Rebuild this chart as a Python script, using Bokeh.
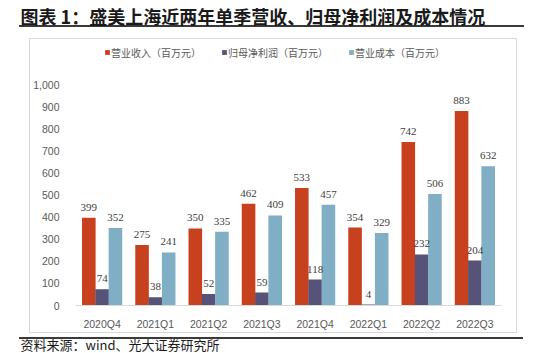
from bokeh.plotting import figure
from bokeh.models import (ColumnDataSource, FactorRange, Range1d, LabelSet, Title,
                          Legend, LegendItem, FixedTicker, NumeralTickFormatter)
from bokeh.transform import dodge
from bokeh.embed import file_html
from bokeh.resources import INLINE

quarters = ["2020Q4", "2021Q1", "2021Q2", "2021Q3", "2021Q4", "2022Q1", "2022Q2", "2022Q3"]
revenue = [399, 275, 350, 462, 533, 354, 742, 883]
net_profit = [74, 38, 52, 59, 118, 4, 232, 204]
cost = [352, 241, 335, 409, 457, 329, 506, 632]
series_names = ["营业收入（百万元）", "归母净利润（百万元）", "营业成本（百万元）"]
y_ticks = [0, 100, 200, 300, 400, 500, 600, 700, 800, 900, 1000]

title_text = "图表 1：盛美上海近两年单季营收、归母净利润及成本情况"
source_text = "资料来源：wind、光大证券研究所"

RED = "#C8411F"
PURPLE = "#575277"
BLUE = "#80AEC4"
CJK = "Noto Sans CJK SC"
LAT = "Liberation Sans"

W, H = 545, 353
FL, FR, FT, FB = 75, 501, 23, 306     # frame edges in canvas px
PX_PER_UNIT = 0.225                   # 1000 -> 225 px
y_end = (FB - FT) / PX_PER_UNIT

p = figure(width=W, height=H, x_range=FactorRange(*quarters, range_padding=0),
           y_range=Range1d(0, y_end), output_backend="svg", toolbar_location=None,
           min_border_left=FL, min_border_right=W - FR, min_border_top=FT,
           min_border_bottom=H - FB)
p.outline_line_color = None
p.background_fill_alpha = 0
p.border_fill_alpha = 0
p.xgrid.grid_line_color = None
p.ygrid.grid_line_color = None

# decorative rules and chart box (page furniture, drawn as CSS background)
def bar(color, x, y, w, h):
    return f"linear-gradient({color},{color}) {x}px {y}px / {w}px {h}px no-repeat"

box_c = "#D9D9D9"
rule_c = "#3a3a3a"
p.styles = {"background": ", ".join([
    bar(rule_c, 19, 25, 505, 2),
    bar(rule_c, 19, 337, 504, 2),
    bar(box_c, 29, 38, 488, 1),
    bar(box_c, 29, 332, 488, 1),
    bar(box_c, 29, 38, 1, 295),
    bar(box_c, 516, 38, 1, 295),
    "#ffffff",
])}

src = ColumnDataSource(dict(q=quarters, rev=revenue, np=net_profit, cost=cost,
                            rev_t=[str(v) for v in revenue],
                            np_t=[str(v) for v in net_profit],
                            cost_t=[str(v) for v in cost]))

bw = 0.255
off = 0.25
r1 = p.vbar(x=dodge("q", -off, range=p.x_range), top="rev", width=bw, source=src,
            fill_color=RED, line_color=None)
r2 = p.vbar(x=dodge("q", 0, range=p.x_range), top="np", width=bw, source=src,
            fill_color=PURPLE, line_color=None)
r3 = p.vbar(x=dodge("q", off, range=p.x_range), top="cost", width=bw, source=src,
            fill_color=BLUE, line_color=None)

for fld, o in (("rev", -off), ("np", 0), ("cost", off)):
    ls = LabelSet(x=dodge("q", o, range=p.x_range), y=fld, text=fld + "_t", source=src,
                  text_align="center", text_baseline="alphabetic", y_offset=7,
                  text_font=LAT, text_font_size="11px", text_color="#404040")
    p.add_layout(ls)

# axes
xa = p.xaxis[0]
xa.axis_line_color = "#D9D9D9"
xa.major_tick_line_color = None
xa.minor_tick_line_color = None
xa.major_label_standoff = 6
xa.major_label_text_font = LAT
xa.major_label_text_font_size = "10.5px"
xa.major_label_text_color = "#595959"

ya = p.yaxis[0]
ya.axis_line_color = None
ya.major_tick_line_color = None
ya.minor_tick_line_color = None
ya.ticker = FixedTicker(ticks=y_ticks)
ya.formatter = NumeralTickFormatter(format="0,0")
ya.major_label_standoff = 10
ya.major_label_text_font = LAT
ya.major_label_text_font_size = "10.5px"
ya.major_label_text_color = "#595959"

# legend (inside frame, near the top)
legend = Legend(items=[LegendItem(label=series_names[0], renderers=[r1]),
                       LegendItem(label=series_names[1], renderers=[r2]),
                       LegendItem(label=series_names[2], renderers=[r3])],
                orientation="horizontal", location=(104 - FL, FB - 60.5),
                glyph_width=6, glyph_height=6, label_height=10, label_standoff=1,
                spacing=20, padding=0, margin=0,
                label_text_font=CJK, label_text_font_size="10px",
                label_text_color="#595959", label_text_baseline="middle",
                background_fill_alpha=0, border_line_color=None)
p.add_layout(legend, "center")

p.add_layout(Title(text=title_text, align="left", offset=20 - FL, vertical_align="bottom",
                   text_font=CJK, text_font_size="18px", text_font_style="bold",
                   text_color="#1a1a1a", standoff=0), "above")
p.add_layout(Title(text=source_text, align="left", offset=20 - FL,
                   text_font=CJK, text_font_size="13px", text_font_style="normal",
                   text_color="#1a1a1a", standoff=0), "below")

open("out.html", "w").write(file_html(p, INLINE))
